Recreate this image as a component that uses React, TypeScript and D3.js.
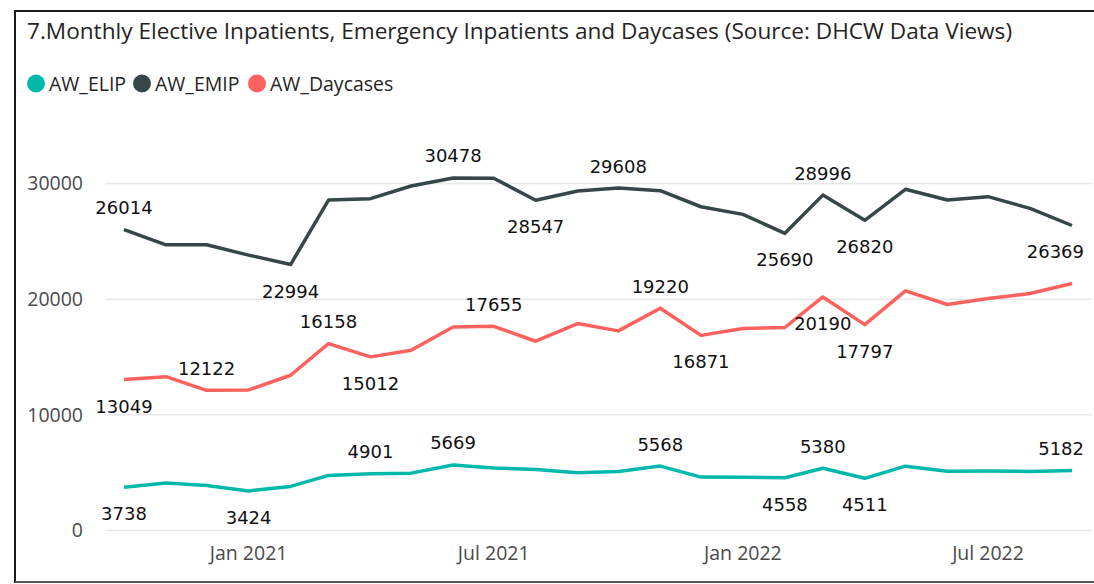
import React from "react";
import * as d3 from "d3";

const months: string[] = [
  "2020-10", "2020-11", "2020-12", "2021-01", "2021-02", "2021-03", "2021-04", "2021-05",
  "2021-06", "2021-07", "2021-08", "2021-09", "2021-10", "2021-11", "2021-12", "2022-01",
  "2022-02", "2022-03", "2022-04", "2022-05", "2022-06", "2022-07", "2022-08", "2022-09",
];

const elip: number[] = [3738, 4100, 3900, 3424, 3810, 4762, 4901, 4960, 5669, 5400, 5281, 4993, 5108, 5568, 4618, 4610, 4558, 5380, 4511, 5560, 5130, 5150, 5110, 5182];
const emip: number[] = [26014, 24700, 24700, 23810, 22994, 28571, 28690, 29784, 30478, 30450, 28547, 29350, 29608, 29380, 27990, 27330, 25690, 28996, 26820, 29500, 28570, 28860, 27850, 26369];
const daycases: number[] = [13049, 13300, 12122, 12150, 13420, 16158, 15012, 15584, 17600, 17655, 16363, 17892, 17258, 19220, 16871, 17460, 17550, 20190, 17797, 20720, 19540, 20060, 20490, 21360];

const elipLabels: [number, "above" | "below"][] = [[0, "below"], [3, "below"], [6, "above"], [8, "above"], [13, "above"], [16, "below"], [17, "above"], [18, "below"], [23, "above"]];
const emipLabels: [number, "above" | "below"][] = [[0, "above"], [4, "below"], [8, "above"], [10, "below"], [12, "above"], [16, "below"], [17, "above"], [18, "below"], [23, "below"]];
const dayLabels: [number, "above" | "below"][] = [[0, "below"], [2, "above"], [5, "above"], [6, "below"], [9, "above"], [13, "above"], [14, "below"], [17, "below"], [18, "below"]];

const yTicks: number[] = [0, 10000, 20000, 30000];
const xTickMonths: string[] = ["2021-01", "2021-07", "2022-01", "2022-07"];

const seriesNames = ["AW_ELIP", "AW_EMIP", "AW_Daycases"];
const colors = ["#01B8AA", "#374649", "#FD625E"];

const parse = d3.timeParse("%Y-%m");
const dates = months.map((m) => parse(m) as Date);

export default function App() {
  const x = d3.scaleTime().domain([dates[0], dates[dates.length - 1]]).range([124, 1072]);
  const y = d3.scaleLinear().domain([0, 30000]).range([530.5, 183.5]);
  const line = d3
    .line<number>()
    .x((_, i) => x(dates[i]))
    .y((d) => y(d));
  const fmt = d3.timeFormat("%b %Y");
  const series = [
    { values: elip, labels: elipLabels },
    { values: emip, labels: emipLabels },
    { values: daycases, labels: dayLabels },
  ];
  const legendX = [36, 142, 257];
  const axisFont = "'Open Sans', 'Noto Sans', sans-serif";
  const labelFont = "'DejaVu Sans', sans-serif";

  return (
    <div style={{ position: "fixed", left: 0, top: 0 }}>
      <svg width={1094} height={584} style={{ display: "block", background: "#fff" }}>
        <rect x={15} y={11} width={1100} height={571} fill="#fff" stroke="#1a1a1a" strokeWidth={2} />
        <line x1={15} x2={1094} y1={582} y2={582} stroke="#555" strokeWidth={2} />
        <text x={27} y={39} fontFamily={axisFont} fontSize={22.6} fill="#252423">
          7.Monthly Elective Inpatients, Emergency Inpatients and Daycases (Source: DHCW Data Views)
        </text>
        {seriesNames.map((n, i) => (
          <g key={n}>
            <circle cx={legendX[i]} cy={83.5} r={9} fill={colors[i]} />
            <text x={legendX[i] + 13} y={90.5} fontFamily={axisFont} fontSize={19.5} fill="#252423">
              {n}
            </text>
          </g>
        ))}
        {yTicks.map((t) => (
          <g key={t}>
            <line x1={105} x2={1092} y1={y(t)} y2={y(t)} stroke="#E8E8E8" strokeWidth={1.5} />
            <text x={83} y={y(t)} dy="0.35em" textAnchor="end" fontFamily={axisFont} fontSize={19.5} fill="#4a4a4a">
              {t}
            </text>
          </g>
        ))}
        {xTickMonths.map((m) => {
          const d = parse(m) as Date;
          return (
            <text key={m} x={x(d)} y={560} textAnchor="middle" fontFamily={axisFont} fontSize={19.5} fill="#4a4a4a">
              {fmt(d)}
            </text>
          );
        })}
        {series.map((s, si) => (
          <path key={si} d={line(s.values) || ""} fill="none" stroke={colors[si]} strokeWidth={3.5} strokeLinejoin="round" />
        ))}
        {series.map((s, si) =>
          s.labels.map(([idx, pos]) => {
            const v = s.values[idx];
            const txt = String(v);
            const w = txt.length * 11.45;
            let cx = x(dates[idx]);
            if (cx + w / 2 > 1084) cx = 1084 - w / 2;
            const py = y(v);
            const ty = pos === "above" ? py - 15.5 : py + 33;
            return (
              <text key={`${si}-${idx}`} x={cx} y={ty} textAnchor="middle" fontFamily={labelFont} fontSize={18} fill="#111">
                {txt}
              </text>
            );
          })
        )}
      </svg>
    </div>
  );
}
